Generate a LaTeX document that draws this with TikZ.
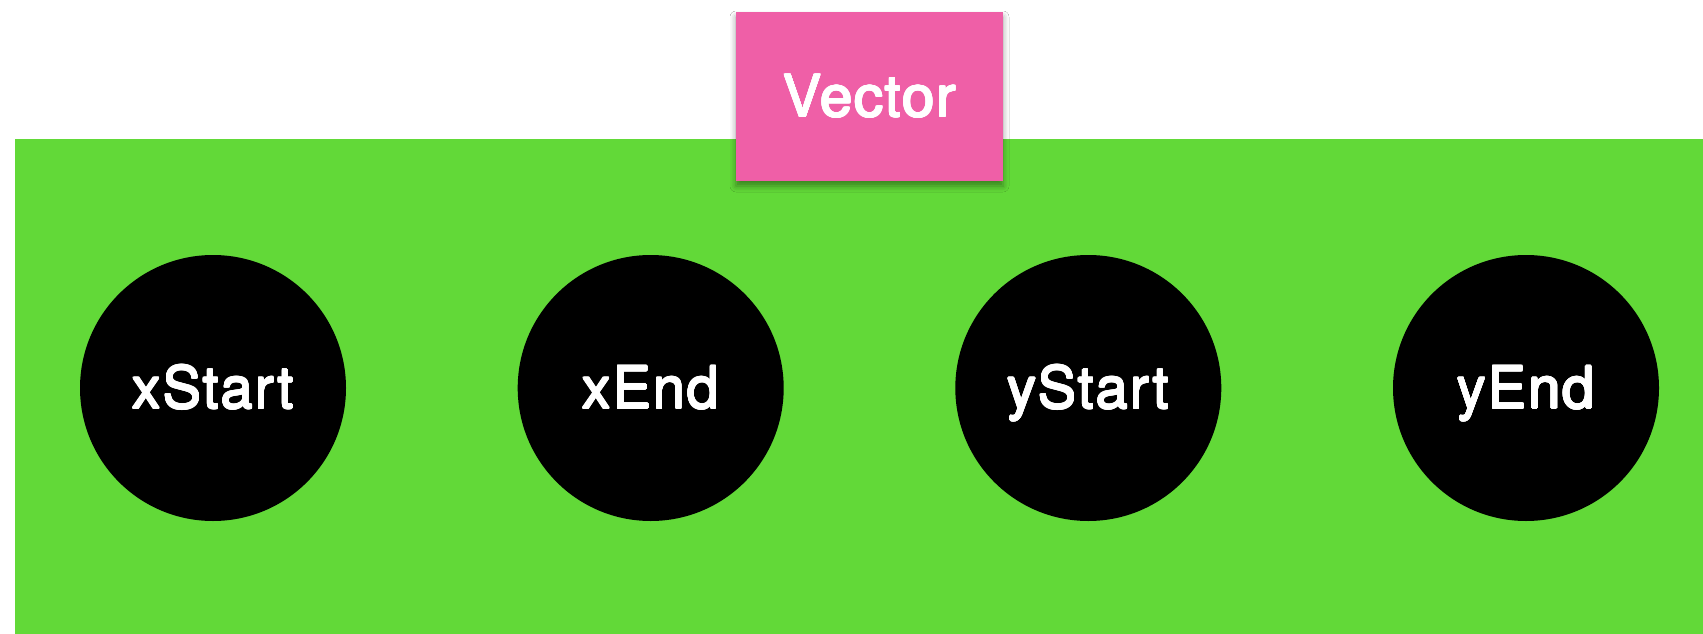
\documentclass[tikz,border=0pt]{standalone}
\usepackage{fontspec}
\setmainfont{TeX Gyre Heros}[LetterSpace=3]
\usepackage[copies]{contour}
\contourlength{0.6pt}
\contournumber{16}
\usetikzlibrary{shadows.blur}
\definecolor{fieldgreen}{RGB}{98,217,56}
\definecolor{tagpink}{RGB}{239,95,167}
\newcommand{\heavy}[1]{\contour{white}{#1}}
\tikzset{
  field/.style={circle, fill=black, draw=none, minimum size=266pt, inner sep=0pt,
    text=white, font=\fontsize{58}{60}\selectfont, text height=41pt, text depth=0pt},
  tag/.style={rectangle, fill=tagpink, draw=none, minimum width=267pt, minimum height=169pt,
    inner sep=0pt, text=white, font=\fontsize{58}{60}\selectfont, text height=41pt, text depth=0pt,
    blur shadow={shadow xshift=0pt, shadow yshift=-5pt, shadow blur radius=6pt, shadow opacity=40}}
}
\begin{document}
\begin{tikzpicture}[x=1pt, y=-1pt]
  \useasboundingbox (0,0) rectangle (1703,634);
  \fill[white] (0,0) rectangle (1703,634);
  % struct body
  \fill[fieldgreen] (15,139) rectangle (1703,634);
  % member fields
  \node[field] (xs) at (213,388) {\heavy{xStart}};
  \node[field] (xe) at (650.7,388) {\heavy{xEnd}};
  \node[field] (ys) at (1088.3,388) {\heavy{yStart}};
  \node[field] (ye) at (1526,388) {\heavy{yEnd}};
  % type label
  \node[tag] (vec) at (869.5,96.5) {\heavy{Vector}};
\end{tikzpicture}
\end{document}
